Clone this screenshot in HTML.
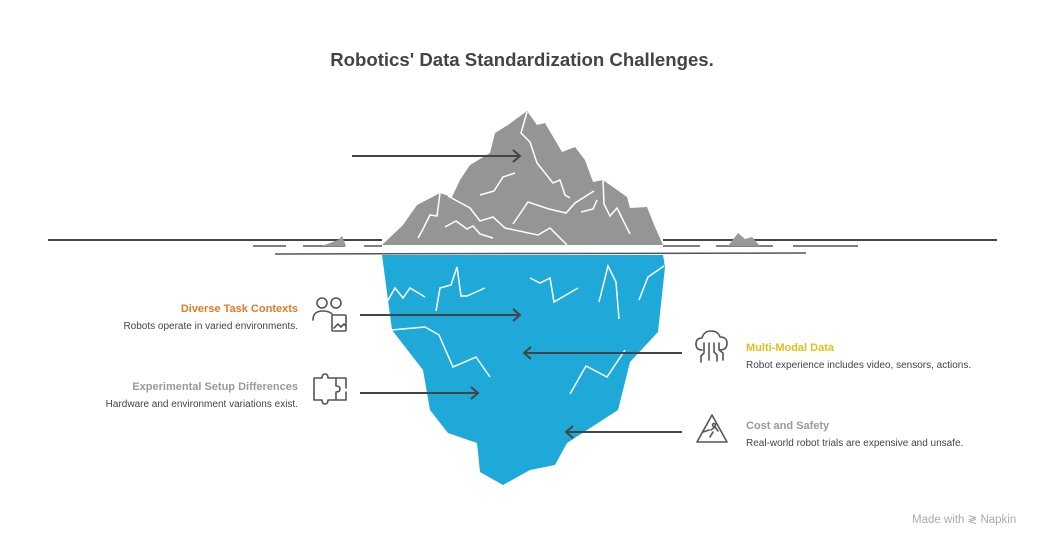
<!DOCTYPE html>
<html><head><meta charset="utf-8"><style>
body{margin:0;width:1044px;height:546px;background:#fff;position:relative;overflow:hidden;font-family:"Liberation Sans",Arial,sans-serif}
.t{position:absolute;white-space:nowrap}
.h{font-weight:bold;font-size:11px}
.d{font-size:10px;color:#444}
.r{text-align:right;right:746px}
</style></head><body>
<div class="t" style="left:0;width:1044px;text-align:center;top:49px;font-size:18.6px;font-weight:bold;color:#444">Robotics' Data Standardization Challenges.</div>
<svg width="1044" height="546" style="position:absolute;left:0;top:0">
<g stroke="#444" stroke-width="2" fill="none">
<line x1="48" y1="240" x2="382" y2="240"/><line x1="663" y1="240" x2="997" y2="240"/>
</g>
<g stroke="#555" stroke-width="1.5" fill="none">
<line x1="253" y1="246" x2="286" y2="246"/><line x1="303" y1="246" x2="345" y2="246"/><line x1="364" y1="246" x2="382" y2="246"/>
<line x1="663" y1="246" x2="700" y2="246"/><line x1="716" y1="246" x2="773" y2="246"/><line x1="793" y1="246" x2="858" y2="246"/>
<line x1="275" y1="254" x2="806" y2="253"/>
</g>
<polygon fill="#999" points="322,246 338,240 342,236 346,246"/>
<polygon fill="#999" points="728,246 738,233 745,239 752,237 760,246"/>
<polygon fill="#959595" points="382,245 403,225 417,205 440,193 452,197 460,180 470,165 490,153 495,133 508,125 527,111 537,125 545,123 562,152 575,147 585,160 593,182 603,180 627,197 630,208 647,207 655,227 663,245"/>
<polygon fill="#1fa9d9" points="382,255 663,255 665,267 658,332 630,362 618,410 567,443 555,465 530,470 503,485 480,472 477,443 448,433 430,410 423,370 392,330"/>
<g stroke="#fff" stroke-width="1.5" fill="none">
<polyline points="527,112 521,133 530,142 537,163 553,183 560,180 565,195 570,198"/>
<polyline points="515,173 503,177 494,191 480,195"/>
<polyline points="440,193 437,216 430,215 422,231 418,238"/>
<polyline points="448,196 470,208 480,221 493,217 505,228 538,235 550,228 567,245"/>
<polyline points="445,227 456,221 467,229 473,226 480,234 493,238"/>
<polyline points="513,224 528,202 549,209 566,213 575,203 594,191"/>
<polyline points="581,212 593,209 597,200"/>
<polyline points="603,180 604,204 610,216 617,208 630,234"/>
<polyline points="387,302 395,288 403,298 410,288 425,297"/>
<polyline points="436,311 440,288 451,285 457,267 461,296 467,296 485,288"/>
<polyline points="530,278 540,283 550,278 554,302 578,288"/>
<polyline points="599,302 608,266 616,282 619,319"/>
<polyline points="639,300 648,277 664,266"/>
<polyline points="391,330 425,327 439,335 453,367 476,357 490,377"/>
<polyline points="570,394 586,366 607,377 625,350"/>
</g>
<g stroke="#444" stroke-width="2" fill="none">
<line x1="352" y1="156" x2="520" y2="156"/><polyline points="513,150 520,156 513,162"/>
<line x1="360" y1="315" x2="520" y2="315"/><polyline points="513,309 520,315 513,321"/>
<line x1="360" y1="393" x2="478" y2="393"/><polyline points="471,387 478,393 471,399"/>
<line x1="682" y1="353" x2="524" y2="353"/><polyline points="531,347 524,353 531,359"/>
<line x1="682" y1="432" x2="566" y2="432"/><polyline points="573,426 566,432 573,438"/>
</g>
<g stroke="#555" stroke-width="1.6" fill="none" stroke-linecap="round" stroke-linejoin="round">
<circle cx="322" cy="303" r="5"/><circle cx="336" cy="303" r="5"/>
<path d="M313 320 q0-9 10-9 q6 0 9 3"/><rect x="332" y="315" width="14" height="16" rx="1"/><path d="M334 328 l4-4 3 3 3-3 2 2"/>
<path d="M314 378 h8 q0 -4 3 -4 q3 0 3 4 h8 v8 q4 0 4 3 q0 3 -4 3 v8 h-8 q0 4 -3 4 q-3 0 -3 -4 h-8 z"/>
<path d="M336 378 h10 v10 M336 400 h10 v-8"/>
<path d="M702 350 q-6 0 -6 -6 q0 -6 6 -6 q2 -7 9 -7 q7 0 9 6 q7 0 7 6 q0 7 -7 7"/>
<path d="M704 343 v10 l-3 3 v6 M709 343 v17 M714 343 v9 l3 3 v6 M719 343 v7 l4 3 v7"/>
<path d="M712 415 l15 27 h-30 z"/><circle cx="714" cy="425" r="1.5"/><path d="M711 430 l4 -3 3 4 M710 437 l3 -5 M703 432 l6 -2"/>
</g>
</svg>
<div class="t h r" style="top:303px;color:#e07b2a">Diverse Task Contexts</div>
<div class="t d r" style="top:321px">Robots operate in varied environments.</div>
<div class="t h r" style="top:381px;color:#9a9a9a">Experimental Setup Differences</div>
<div class="t d r" style="top:399px">Hardware and environment variations exist.</div>
<div class="t h" style="left:746px;top:342px;color:#d9c21c">Multi-Modal Data</div>
<div class="t d" style="left:746px;top:360px">Robot experience includes video, sensors, actions.</div>
<div class="t h" style="left:746px;top:420px;color:#9a9a9a">Cost and Safety</div>
<div class="t d" style="left:746px;top:438px">Real-world robot trials are expensive and unsafe.</div>
<div class="t" style="left:912px;top:512px;font-size:11.5px;color:#aaa">Made with ≷ Napkin</div>
</body></html>
